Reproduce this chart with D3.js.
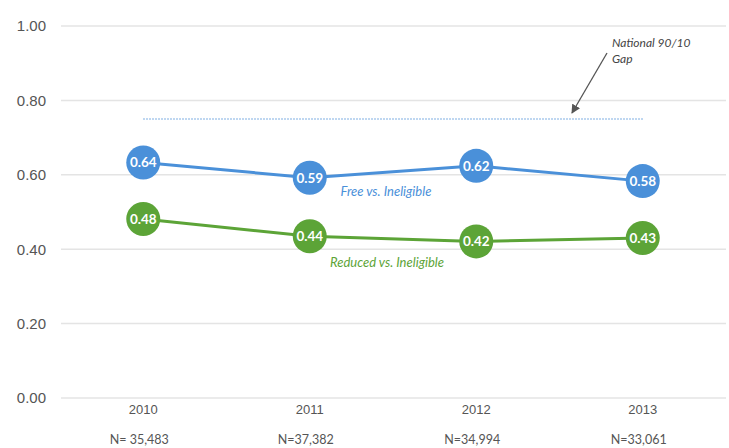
<!DOCTYPE html>
<html><head><meta charset="utf-8">
<script src="https://cdn.jsdelivr.net/npm/d3@7"></script>
<style>body{margin:0;background:#fff;} svg{display:block;font-family:Lato, "Open Sans", sans-serif;}</style>
</head><body><svg id="c" width="729" height="448"></svg>
<script>
const years = ["2010","2011","2012","2013"];
const sampleSizes = ["N= 35,483","N=37,382","N=34,994","N=33,061"];
const freeValues = [0.633, 0.592, 0.624, 0.583];
const freeLabels = ["0.64","0.59","0.62","0.58"];
const reducedValues = [0.481, 0.435, 0.421, 0.43];
const reducedLabels = ["0.48","0.44","0.42","0.43"];
const nationalGap = 0.75;
const yTicks = [0, 0.2, 0.4, 0.6, 0.8, 1.0];

const svg = d3.select("#c");
const x = d3.scaleBand().domain(years).range([60, 726]);
const y = d3.scaleLinear().domain([0, 1]).range([398, 26]);
const cx = d => x(d) + x.bandwidth()/2;

// grid
const yAxis = d3.axisLeft(y).tickValues(yTicks).tickFormat(d3.format(".2f")).tickSize(0);
const gy = svg.append("g").attr("transform","translate(46,0)").call(yAxis);
gy.select(".domain").remove();
gy.selectAll("text").attr("font-size",15).attr("fill","#555").attr("x",0).attr("text-anchor","end");
svg.append("g").selectAll("line").data(yTicks).join("line")
  .attr("x1",61).attr("x2",726).attr("y1",d=>y(d)).attr("y2",d=>y(d))
  .attr("stroke","#e4e4e4").attr("stroke-width",1.5);

// x axis
const xAxis = d3.axisBottom(x).tickSize(0).tickPadding(0);
const gx = svg.append("g").attr("transform","translate(0,405)").call(xAxis);
gx.select(".domain").remove();
gx.selectAll("text").attr("font-size",13).attr("fill","#555").attr("dy","0.71em");
svg.append("g").selectAll("text").data(years).join("text")
  .attr("x",d=>cx(d)-4).attr("y",444).attr("text-anchor","middle")
  .attr("font-size",12.5).attr("fill","#555").text((d,i)=>sampleSizes[i]);

// national gap dotted line
svg.append("line").attr("x1",cx(years[0])).attr("x2",cx(years[3]))
  .attr("y1",y(nationalGap)).attr("y2",y(nationalGap))
  .attr("stroke","#8fb9e6").attr("stroke-width",1.5).attr("stroke-dasharray","1.5,1.5");

// arrow
svg.append("defs").append("marker").attr("id","ah").attr("viewBox","0 0 10 10")
  .attr("refX",9).attr("refY",5).attr("markerWidth",7).attr("markerHeight",7).attr("orient","auto")
  .append("path").attr("d","M0,0L10,5L0,10z").attr("fill","#555");
svg.append("line").attr("x1",607).attr("y1",53).attr("x2",572).attr("y2",113)
  .attr("stroke","#555").attr("stroke-width",1.3).attr("marker-end","url(#ah)");
svg.append("text").attr("x",612).attr("y",47).attr("font-size",12).attr("font-style","italic").attr("fill","#444").text("National 90/10");
svg.append("text").attr("x",612).attr("y",63).attr("font-size",12).attr("font-style","italic").attr("fill","#444").text("Gap");

function series(vals, labels, color){
  const line = d3.line().x((d,i)=>cx(years[i])).y(d=>y(d));
  svg.append("path").datum(vals).attr("d",line).attr("fill","none").attr("stroke",color).attr("stroke-width",3);
  const g = svg.append("g").selectAll("g").data(vals).join("g")
    .attr("transform",(d,i)=>`translate(${cx(years[i])},${y(d)})`);
  g.append("circle").attr("r",17).attr("fill",color);
  g.append("text").attr("text-anchor","middle").attr("dy","0.35em").attr("font-size",13.5)
    .attr("font-weight","bold").attr("fill","#fff").text((d,i)=>labels[i]);
}
series(freeValues, freeLabels, "#4a90d9");
series(reducedValues, reducedLabels, "#5ca437");

svg.append("text").attr("x",386).attr("y",196).attr("text-anchor","middle").attr("font-size",13)
  .attr("font-style","italic").attr("fill","#4a90d9").text("Free vs. Ineligible");
svg.append("text").attr("x",387).attr("y",267).attr("text-anchor","middle").attr("font-size",13)
  .attr("font-style","italic").attr("fill","#5ca437").text("Reduced vs. Ineligible");
</script></body></html>
